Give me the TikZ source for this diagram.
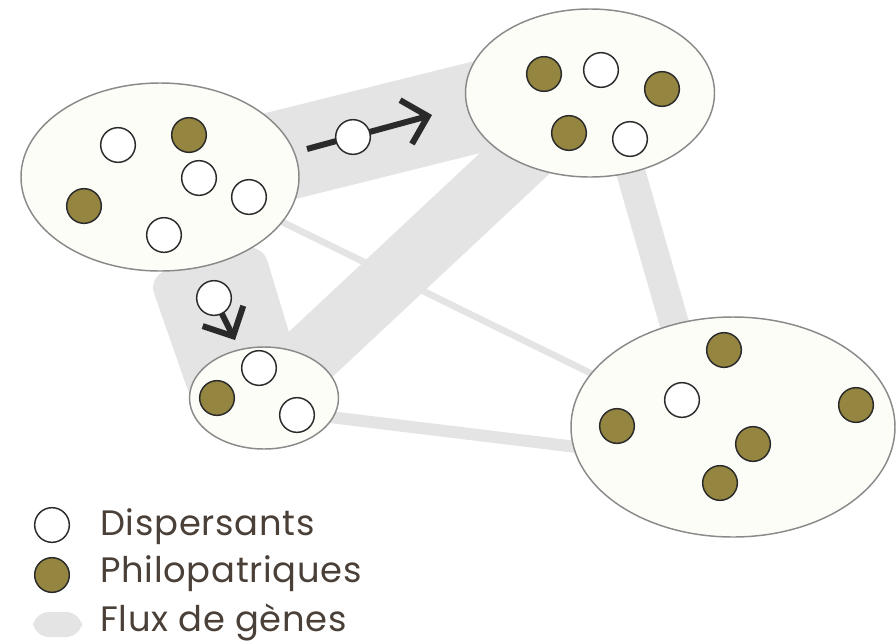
\documentclass[tikz,border=0pt]{standalone}
\usepackage{fontspec}
\setmainfont{Poppins}[LetterSpace=2]
\usetikzlibrary{shapes.geometric,arrows.meta}

\definecolor{flowgray}{HTML}{E4E4E4}
\definecolor{popfill}{HTML}{FDFDF8}
\definecolor{popline}{HTML}{8A8A8A}
\definecolor{olive}{HTML}{948540}
\definecolor{ink}{HTML}{2A2A2A}
\definecolor{legendtext}{HTML}{4A4038}

\tikzset{
  flow/.style={draw=flowgray, line cap=butt},
  flowarea/.style={fill=flowgray},
  pop/.style={ellipse, draw=popline, fill=popfill, line width=1.1pt, inner sep=0pt},
  indiv/.style={circle, draw=ink, line width=1.1pt, minimum size=26pt, inner sep=0pt},
  disp/.style={indiv, fill=white},
  philo/.style={indiv, fill=olive},
  migr/.style={draw=ink, line width=4.5pt, -{Straight Barb[length=17pt, width=34pt, line width=4.5pt]}},
  legend/.style={anchor=base west, text=legendtext, font=\fontsize{26.5}{32}\selectfont, inner sep=0pt}
}

\begin{document}
\begin{tikzpicture}[x=0.75pt, y=-0.75pt]
  \useasboundingbox (0,0) rectangle (896,643);

  % gene-flow band end points
  \coordinate (f12a) at (160,186);
  \coordinate (f12b) at (590,79);
  \coordinate (f32a) at (264,398);
  \coordinate (f32b) at (590,93);
  \coordinate (f24a) at (608,93);
  \coordinate (f24b) at (704,427);
  \coordinate (f14a) at (160,162);
  \coordinate (f14b) at (733,443);
  \coordinate (f34a) at (264,409);
  \coordinate (f34b) at (733,466);
  \coordinate (f13tl) at (148,276);
  \coordinate (f13tr) at (262,243);
  \coordinate (f13br) at (305,385);
  \coordinate (f13bl) at (193,405);

  % gene-flow bands
  \draw[flow, line width=5pt] (f14a) -- (f14b);
  \draw[flow, line width=9pt] (f34a) -- (f34b);
  \draw[flow, line width=22pt] (f24a) -- (f24b);
  \draw[flow, line width=68pt] (f12a) -- (f12b);
  \draw[flow, line width=47pt] (f32a) -- (f32b);
  \fill[flowarea, rounded corners=14pt] (f13bl) -- (f13tl) -- (f13tr) -- (f13br) -- cycle;

  % populations
  \node[pop, minimum width=208.5pt, minimum height=141pt] (popA) at (160,177) {};
  \node[pop, minimum width=186.75pt, minimum height=126pt] (popB) at (590,93) {};
  \node[pop, minimum width=111.75pt, minimum height=76.5pt] (popC) at (264,398) {};
  \node[pop, minimum width=243pt, minimum height=165pt] (popD) at (733,427) {};

  % individuals of population A
  \node[disp]  (a1) at (118,145) {};
  \node[philo] (a2) at (189,135) {};
  \node[disp]  (a3) at (199,178) {};
  \node[disp]  (a4) at (249,197) {};
  \node[philo] (a5) at (84,206) {};
  \node[disp]  (a6) at (164,235) {};

  % individuals of population B
  \node[philo] (b1) at (544,74) {};
  \node[disp]  (b2) at (601,70) {};
  \node[philo] (b3) at (662,89) {};
  \node[philo] (b4) at (569,133) {};
  \node[disp]  (b5) at (630,139) {};

  % individuals of population C
  \node[disp]  (c1) at (259,368) {};
  \node[philo] (c2) at (217,398) {};
  \node[disp]  (c3) at (297,415) {};

  % individuals of population D
  \node[philo] (d1) at (724,350) {};
  \node[disp]  (d2) at (682,400) {};
  \node[philo] (d3) at (617,426) {};
  \node[philo] (d4) at (856,405) {};
  \node[philo] (d5) at (753,444) {};
  \node[philo] (d6) at (720,483) {};

  % migrating dispersers
  \coordinate (m1start) at (307,149);
  \coordinate (m1tip) at (432,115);
  \draw[migr] (m1start) -- (m1tip);
  \node[disp] (m1) at (353,137) {};

  \coordinate (m2start) at (214,298);
  \coordinate (m2tip) at (235,340);
  \draw[migr] (m2start) -- (m2tip);
  \node[disp] (m2) at (m2start) {};

  % legend
  \node[disp] (keyD) at (52,525) {};
  \node[philo] (keyP) at (52,575) {};
  \fill[flowarea, rounded corners=12pt] (33,612) rectangle (82,637);
  \node[legend] (txtD) at (100,535) {Dispersants};
  \node[legend] (txtP) at (100,582) {Philopatriques};
  \node[legend] (txtF) at (100,631) {Flux de gènes};
\end{tikzpicture}
\end{document}
